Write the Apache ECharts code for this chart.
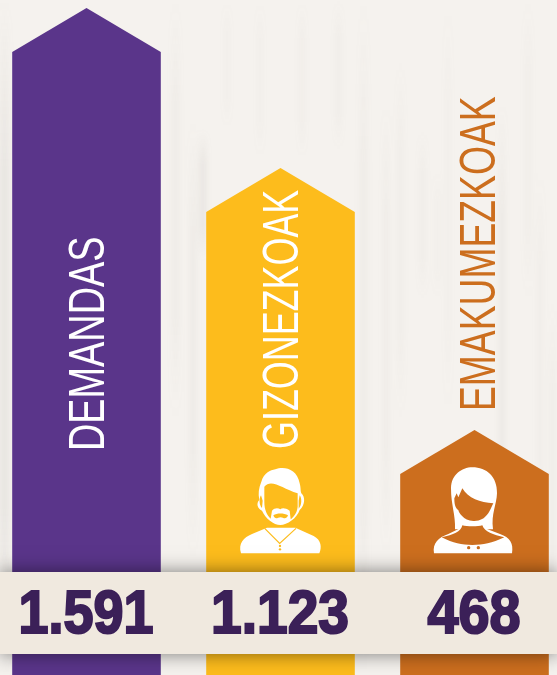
<!DOCTYPE html>
<html>

<head>
    <meta charset='utf-8' />
    <script src="https://cdn.jsdelivr.net/npm/echarts@6/dist/echarts.min.js"></script>
    <title>Demandas</title>
    <style>
        html, body {
            margin: 0;
            padding: 0;
            overflow: hidden;
            background: #f5f2ee;
        }

        #wood {
            position: absolute;
            left: 0;
            top: 0;
            width: 557px;
            height: 675px;
            filter: blur(3px);
        }

        #wood div {
            position: absolute;
        }

        #chart {
            position: absolute;
            left: 0;
            top: 0;
            width: 557px;
            height: 675px;
        }
    </style>
</head>

<body>
    <div id="wood"></div>
    <div id="chart"></div>
    <script type="text/javascript">
        var categories = ['DEMANDAS', 'GIZONEZKOAK', 'EMAKUMEZKOAK'];
        var totalLabels = ['1.591', '1.123', '468'];
        // the arrows are not drawn to scale with the totals, so this is their drawn height
        var arrowHeights = [667, 507, 245];
        var colors = ['#5a358a', '#fdbc1c', '#cc6e1e'];
        var labelColors = ['#ffffff', '#ffffff', '#cc6e1e'];

        var ROOF = 44, H = 675;
        var labelBottom = [451, 449, 411];
        var labelShift = [4, 4, 7];
        var labelStretch = [0.757, 0.718, 0.745];
        var totalStretch = [0.87, 0.89, 0.9];

        // grain of the wood: x, width, top, bottom, strength
        var grain = [
            [0, 9, 0, 675, 0.1], [172, 7, 0, 420, 0.05], [190, 6, 120, 560, 0.06],
            [200, 6, 130, 260, 0.1], [360, 7, 0, 675, 0.05], [384, 4, 100, 560, 0.07],
            [398, 5, 60, 420, 0.05], [420, 5, 130, 300, 0.05], [436, 3, 170, 300, 0.05],
            [446, 4, 0, 420, 0.04], [500, 4, 100, 560, 0.1], [525, 6, 0, 300, 0.04],
            [538, 4, 170, 560, 0.06], [550, 5, 300, 675, 0.05], [300, 4, 0, 160, 0.05],
            [225, 4, 0, 130, 0.04], [258, 4, 0, 160, 0.04], [336, 5, 0, 150, 0.05]
        ];

        var manBody = 'M27 280C18 250 35 232 60 222L105 203L190 203L245 228C268 240 270 262 262 280Z';
        var manHead = 'M82 120C78 100 80 85 88 65C95 40 115 30 130 28C155 18 195 25 203 70C207 85 205 92 208 100C220 110 220 135 203 150C195 175 165 195 145 195C125 195 100 175 90 152C76 145 72 130 82 120Z';
        var manFace = 'M97 80C118 55 150 85 197 100L197 140C195 160 185 170 176 178L173 152C160 143 150 143 145 148C138 143 128 143 120 152L116 176C105 165 97 150 97 125Z';
        var manMouth = 'M124 166C135 159 155 159 168 166C163 180 155 174 146 172C135 174 129 180 124 166Z';
        var manEars = 'M87 106C81 115 81 135 90 144L92 122ZM203 106C210 115 210 135 200 146L200 122Z';
        var womanBody = 'M27 280C22 250 40 232 70 222L105 205L180 205L225 222C255 232 266 250 261 280Z';
        var womanHair = 'M78 85C78 45 110 22 142 22C185 22 217 50 216 100C215 135 198 160 204 208L90 208C92 165 78 135 78 85Z';
        var womanChest = 'M50 232C85 225 108 215 112 196C125 200 160 200 172 196C178 215 205 225 238 232C200 250 175 255 142 255C110 255 85 250 50 232Z';
        var womanFace = 'M88 115L95 100L100 112L112 85C130 115 165 128 205 130C195 150 185 185 145 183C115 183 100 155 100 150C90 145 88 130 88 115Z';

        var wood = document.getElementById('wood');
        grain.forEach(function (g) {
            var d = document.createElement('div');
            d.style.left = g[0] + 'px';
            d.style.width = g[1] + 'px';
            d.style.top = g[2] + 'px';
            d.style.height = (g[3] - g[2]) + 'px';
            var c = 'rgba(120,115,110,' + g[4] + ')';
            d.style.background = 'linear-gradient(to bottom, rgba(120,115,110,0), ' + c + ' 25%, ' + c + ' 75%, rgba(120,115,110,0))';
            wood.appendChild(d);
        });

        function iconPath(d, fill, stroke, width) {
            return {
                type: 'path',
                shape: { pathData: d },
                style: { fill: fill, stroke: stroke || null, lineWidth: width || 0 }
            };
        }

        function dot(x, y, r, fill) {
            return { type: 'circle', shape: { cx: x, cy: y, r: r }, style: { fill: fill } };
        }

        function manIcon(x, y, bg) {
            return {
                type: 'group', x: x, y: y, scaleX: 1 / 3, scaleY: 1 / 3,
                children: [
                    iconPath(manBody, '#fff'),
                    iconPath('M98 205L143 250L192 205', 'none', bg, 3.5),
                    dot(144, 258, 3.5, bg), dot(144, 268, 3.5, bg),
                    iconPath(manHead, bg, bg, 10),
                    iconPath(manHead, '#fff'),
                    iconPath(manFace, bg), iconPath(manEars, bg), iconPath(manMouth, bg)
                ]
            };
        }

        function womanIcon(x, y, bg) {
            return {
                type: 'group', x: x, y: y, scaleX: 1 / 3, scaleY: 1 / 3,
                children: [
                    iconPath(womanBody, '#fff'),
                    iconPath(womanHair, '#fff'),
                    iconPath(womanChest, bg),
                    iconPath(womanFace, bg),
                    dot(131, 263, 5, bg), dot(160, 263, 5, bg)
                ]
            };
        }

        function renderArrow(params, api) {
            var i = params.dataIndex;
            var top = api.coord([i, api.value(1)]);
            var base = api.coord([i, 0]);
            var half = api.size([1, 0])[0] * 0.383;
            var children = [{
                type: 'polygon',
                shape: {
                    points: [
                        [top[0], top[1]], [top[0] + half, top[1] + ROOF], [top[0] + half, base[1]],
                        [top[0] - half, base[1]], [top[0] - half, top[1] + ROOF]
                    ]
                },
                style: { fill: colors[i] }
            }, {
                type: 'text',
                x: top[0] + labelShift[i],
                y: labelBottom[i],
                rotation: Math.PI / 2,
                scaleX: labelStretch[i],
                style: {
                    text: categories[i],
                    fill: labelColors[i],
                    font: '50px "Liberation Sans"',
                    textAlign: 'left',
                    textVerticalAlign: 'middle'
                }
            }];
            if (i === 1) children.push(manIcon(232, 460, colors[i]));
            if (i === 2) children.push(womanIcon(425, 460, colors[i]));
            return { type: 'group', children: children };
        }

        function renderTotal(params, api) {
            var i = params.dataIndex;
            return {
                type: 'text',
                x: api.coord([i, 0])[0] - 0.5,
                y: 616,
                scaleX: totalStretch[i],
                style: {
                    text: totalLabels[i],
                    fill: '#3b2058',
                    stroke: '#3b2058',
                    lineWidth: 2.2,
                    font: 'bold 62px "Liberation Sans"',
                    textAlign: 'center',
                    textVerticalAlign: 'middle'
                }
            };
        }

        var band = {
            type: 'rect',
            silent: true,
            z: 5,
            shape: { x: 0, y: 572, width: 557, height: 82 },
            style: { fill: '#f0e9df', shadowBlur: 18, shadowColor: 'rgba(0,0,0,0.5)' }
        };

        var seriesData = categories.map(function (c, i) {
            return [i, arrowHeights[i]];
        });

        var chart = echarts.init(document.getElementById('chart'), null, { renderer: 'canvas' });
        chart.setOption({
            animation: false,
            grid: { left: -10.5, top: 0, width: 582, height: H, outerBoundsMode: 'none' },
            xAxis: { type: 'category', data: categories, show: false },
            yAxis: { type: 'value', min: 0, max: H, show: false },
            graphic: { elements: [band] },
            series: [{
                type: 'custom',
                name: 'arrows',
                z: 2,
                silent: true,
                clip: false,
                renderItem: renderArrow,
                encode: { x: 0, y: 1 },
                data: seriesData
            }, {
                type: 'custom',
                name: 'totals',
                z: 10,
                silent: true,
                clip: false,
                renderItem: renderTotal,
                encode: { x: 0, y: 1 },
                data: seriesData
            }]
        });
    </script>
</body>

</html>
